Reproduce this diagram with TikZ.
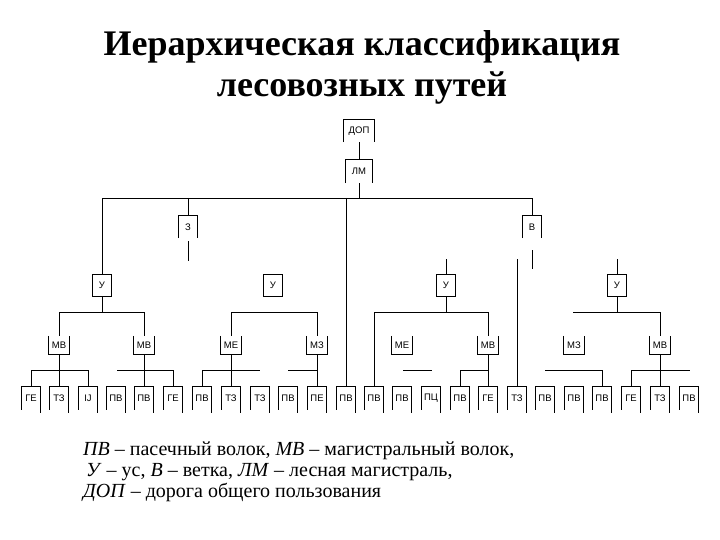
\documentclass[tikz,border=0pt]{standalone}
\usepackage{fontspec}
\setmainfont{Liberation Serif}
\newfontfamily\lab{Liberation Sans}
\begin{document}
\begin{tikzpicture}[x=1pt,y=-1pt,
  conn/.style={line width=0.9pt,black},
  boxline/.style={line width=0.9pt,black},
  lbl/.style={inner sep=0pt,font=\lab\fontsize{9.5}{10}\selectfont},
  leafbox/.style={lbl,minimum width=19pt,minimum height=23pt},
  midbox/.style={lbl,minimum width=20pt,minimum height=18pt},
  ubox/.style={lbl,minimum width=19pt,minimum height=21pt},
  vbox/.style={lbl,minimum width=19pt,minimum height=22pt},
  title/.style={inner sep=0pt,anchor=base,font=\fontsize{36}{40}\selectfont\bfseries},
  legend/.style={inner sep=0pt,anchor=base west,font=\fontsize{20}{21}\selectfont}
]
\useasboundingbox (0,0) rectangle (720,540);

% helper shapes
\newcommand{\shpP}[1]{\draw[boxline] (#1.south west) -- (#1.north west) -- (#1.north east) -- (#1.south east);}
\newcommand{\shpL}[1]{\draw[boxline] (#1.south west) -- (#1.north west) -- (#1.north east) -- ([yshift=-3pt]#1.south east);}
\newcommand{\shpU}[1]{\draw[boxline] (#1.north west) -- (#1.south west) -- (#1.south east) -- (#1.north east);}
\newcommand{\shpR}[1]{\draw[boxline] (#1.north west) rectangle (#1.south east);}

% title
\node[title] (t1) at (362,56) {Иерархическая классификация};
\node[title] (t2) at (362,97) {лесовозных путей};

% top nodes
\node[lbl,minimum width=30pt,minimum height=22pt] (dop) at (359,131) {ДОП};
\node[lbl,minimum width=26pt,minimum height=23pt] (lm) at (359,171.5) {ЛМ};
\node[vbox] (z) at (188,227) {З};
\node[vbox] (v) at (532,227) {В};
\shpP{dop}\shpP{lm}\shpP{z}\shpP{v}

% U level
\node[ubox] (u1) at (102,285.5) {У};
\node[ubox] (u2) at (273,285.5) {У};
\node[ubox] (u3) at (446,285.5) {У};
\node[ubox] (u4) at (617,285.5) {У};
\shpR{u1}\shpR{u2}\shpR{u3}\shpR{u4}

% MV level
\node[midbox] (m1) at (59,345) {МВ};
\node[midbox] (m2) at (144,345) {МВ};
\node[midbox] (m3) at (231,345) {МЕ};
\node[midbox] (m4) at (317,345) {МЗ};
\node[midbox] (m5) at (402,345) {МЕ};
\node[midbox] (m6) at (488,345) {МВ};
\node[midbox] (m7) at (574,345) {МЗ};
\node[midbox] (m8) at (660,345) {МВ};
\foreach \n in {m1,m2,m3,m4,m5,m6,m7,m8} {\shpU{\n}}

% leaves
\foreach \i/\x/\t in {1/31/ГЕ,2/59/ТЗ,3/88/IJ,4/116/ПВ,5/144/ПВ,6/173/ГЕ,7/202/ПВ,8/231/ТЗ,
  9/260/ТЗ,10/288/ПВ,11/317/ПЕ,12/346/ПВ,13/374/ПВ,14/402/ПВ,15/431/ПЦ,16/460/ПВ,
  17/488/ГЕ,18/517/ТЗ,19/545/ПВ,20/574/ПВ,21/602/ПВ,22/631/ГЕ,23/660/ТЗ,24/689/ПВ} {
  \node[leafbox] (b\i) at (\x,398) {\t};
  \shpL{b\i}
}

% helper coordinates
\coordinate (bus) at (0,198);
\coordinate (h1) at (0,312);
\coordinate (h2) at (0,370);

% connectors top
\draw[conn] (dop.south) -- (lm.north);
\draw[conn] (lm.south) -- (lm.south |- bus);
\draw[conn] (u1.north) -- (u1.north |- bus) -- (v.north |- bus) -- (v.north);
\draw[conn] (z.north |- bus) -- (z.north);
\draw[conn] (b12.north |- bus) -- (b12.north);
\coordinate (zs1) at (188,241); \coordinate (zs2) at (188,261);
\draw[conn] (zs1) -- (zs2);
\coordinate (vs1) at (532,250); \coordinate (vs2) at (532,269);
\draw[conn] (vs1) -- (vs2);
\coordinate (u3t) at (446,259);
\draw[conn] (u3t) -- (u3.north);
\coordinate (u4t) at (617,259);
\draw[conn] (u4t) -- (u4.north);
\coordinate (b18t) at (517,259);
\draw[conn] (b18t) -- (b18.north);

% U -> MV
\draw[conn] (u1.south) -- (u1.south |- h1);
\draw[conn] (m1.north) -- (m1.north |- h1) -- (m2.north |- h1) -- (m2.north);
\draw[conn] (m3.north) -- (m3.north |- h1) -- (m4.north |- h1) -- (m4.north);
\draw[conn] (u3.south) -- (u3.south |- h1);
\draw[conn] (b13.north) -- (b13.north |- h1) -- (m6.north |- h1) -- (m6.north);
\draw[conn] (u4.south) -- (u4.south |- h1);
\coordinate (u4l) at (573,312);
\draw[conn] (u4l) -- (m8.north |- h1) -- (m8.north);

% MV -> leaves
\draw[conn] (m1.south) -- (b2.north);
\draw[conn] (b1.north) -- (b1.north |- h2) -- (b3.north |- h2) -- (b3.north);
\draw[conn] (m2.south) -- (b5.north);
\coordinate (m2l) at (117,370);
\draw[conn] (m2l) -- (b6.north |- h2) -- (b6.north);
\draw[conn] (m3.south) -- (b8.north);
\coordinate (m3r) at (260,370);
\draw[conn] (b7.north) -- (b7.north |- h2) -- (m3r);
\draw[conn] (m4.south) -- (b11.north);
\coordinate (m4l) at (288,370);
\draw[conn] (m4l) -- (b11.north |- h2);
\coordinate (m5a) at (403,370); \coordinate (m5b) at (432,370);
\draw[conn] (m5a) -- (m5b);
\draw[conn] (m6.south) -- (b17.north);
\draw[conn] (b16.north) -- (b16.north |- h2) -- (b17.north |- h2);
\coordinate (m7l) at (545,370);
\draw[conn] (m7l) -- (b21.north |- h2) -- (b21.north);
\draw[conn] (m8.south) -- (b23.north);
\coordinate (m8r) at (690,370);
\draw[conn] (b22.north) -- (b22.north |- h2) -- (m8r);

% legend
\node[legend] (l1) at (83,455) {\textit{ПВ} – пасечный волок, \textit{МВ} – магистральный волок,};
\node[legend] (l2) at (86,476) {\textit{У} – ус, \textit{В} – ветка, \textit{ЛМ} – лесная магистраль,};
\node[legend] (l3) at (83,497) {\textit{ДОП} – дорога общего пользования};
\end{tikzpicture}
\end{document}
